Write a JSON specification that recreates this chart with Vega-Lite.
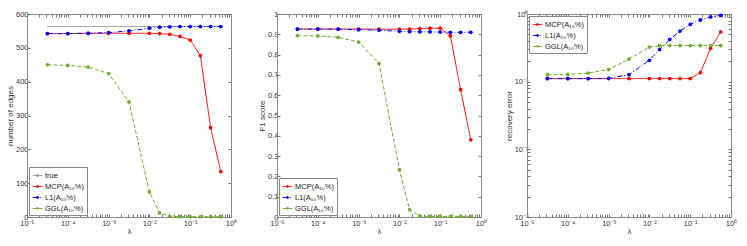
{
  "$schema": "https://vega.github.io/schema/vega-lite/v6.json",
  "padding": {"left": 6, "top": 10, "right": 2, "bottom": 1},
  "background": "white",
  "config": {
    "font": "Liberation Sans",
    "view": {"stroke": null},
    "axis": {
      "grid": false,
      "tickSize": -3,
      "tickColor": "#777",
      "domainColor": "#888",
      "labelColor": "#333",
      "labelFont": "Liberation Sans",
      "labelFontSize": 7.5,
      "labelPadding": 2,
      "labelFlush": false,
      "labelOverlap": false,
      "titleFont": "Liberation Sans",
      "titleFontSize": 8,
      "titleFontWeight": "normal",
      "titleColor": "#333",
      "titlePadding": 3
    },
    "axisY": {"titlePadding": 1},
    "axisX": {"labelPadding": 5, "titlePadding": 1},
    "legend": {
      "strokeColor": "#888",
      "fillColor": "white",
      "padding": 3,
      "offset": 2,
      "labelFont": "Liberation Sans",
      "labelFontSize": 7.5,
      "labelColor": "#222",
      "rowPadding": 2,
      "symbolSize": 90,
      "symbolStrokeWidth": 1,
      "labelOffset": 2,
      "symbolType": "M-1,0L1,0M-0.22,0A0.22,0.22,0,1,1,0.22,0A0.22,0.22,0,1,1,-0.22,0Z"
    }
  },
  "data": {"values": [
    {"panel":1,"method":"true","x":3.162e-5,"y":563},{"panel":1,"method":"true","x":1e-4,"y":563},{"panel":1,"method":"true","x":3.162e-4,"y":563},{"panel":1,"method":"true","x":1e-3,"y":563},{"panel":1,"method":"true","x":3.162e-3,"y":563},{"panel":1,"method":"true","x":1e-2,"y":563},{"panel":1,"method":"true","x":1.778e-2,"y":563},{"panel":1,"method":"true","x":3.162e-2,"y":563},{"panel":1,"method":"true","x":5.623e-2,"y":563},{"panel":1,"method":"true","x":0.1,"y":563},{"panel":1,"method":"true","x":0.1778,"y":563},{"panel":1,"method":"true","x":0.3162,"y":563},{"panel":1,"method":"true","x":0.5623,"y":563},

    {"panel":1,"method":"MCP(A₁₀%)","x":3.162e-5,"y":542},{"panel":1,"method":"MCP(A₁₀%)","x":1e-4,"y":542},{"panel":1,"method":"MCP(A₁₀%)","x":3.162e-4,"y":543},{"panel":1,"method":"MCP(A₁₀%)","x":1e-3,"y":543},{"panel":1,"method":"MCP(A₁₀%)","x":3.162e-3,"y":543},{"panel":1,"method":"MCP(A₁₀%)","x":1e-2,"y":543},{"panel":1,"method":"MCP(A₁₀%)","x":1.778e-2,"y":542},{"panel":1,"method":"MCP(A₁₀%)","x":3.162e-2,"y":540},{"panel":1,"method":"MCP(A₁₀%)","x":5.623e-2,"y":534},{"panel":1,"method":"MCP(A₁₀%)","x":0.1,"y":523},{"panel":1,"method":"MCP(A₁₀%)","x":0.1778,"y":477},{"panel":1,"method":"MCP(A₁₀%)","x":0.3162,"y":264},{"panel":1,"method":"MCP(A₁₀%)","x":0.5623,"y":134},

    {"panel":1,"method":"L1(A₁₀%)","x":3.162e-5,"y":542},{"panel":1,"method":"L1(A₁₀%)","x":1e-4,"y":542},{"panel":1,"method":"L1(A₁₀%)","x":3.162e-4,"y":543},{"panel":1,"method":"L1(A₁₀%)","x":1e-3,"y":545},{"panel":1,"method":"L1(A₁₀%)","x":3.162e-3,"y":550},{"panel":1,"method":"L1(A₁₀%)","x":1e-2,"y":558},{"panel":1,"method":"L1(A₁₀%)","x":1.778e-2,"y":561},{"panel":1,"method":"L1(A₁₀%)","x":3.162e-2,"y":562},{"panel":1,"method":"L1(A₁₀%)","x":5.623e-2,"y":563},{"panel":1,"method":"L1(A₁₀%)","x":0.1,"y":563},{"panel":1,"method":"L1(A₁₀%)","x":0.1778,"y":563},{"panel":1,"method":"L1(A₁₀%)","x":0.3162,"y":563},{"panel":1,"method":"L1(A₁₀%)","x":0.5623,"y":563},

    {"panel":1,"method":"GGL(A₁₀%)","x":3.162e-5,"y":450},{"panel":1,"method":"GGL(A₁₀%)","x":1e-4,"y":448},{"panel":1,"method":"GGL(A₁₀%)","x":3.162e-4,"y":443},{"panel":1,"method":"GGL(A₁₀%)","x":1e-3,"y":424},{"panel":1,"method":"GGL(A₁₀%)","x":3.162e-3,"y":340},{"panel":1,"method":"GGL(A₁₀%)","x":1e-2,"y":74},{"panel":1,"method":"GGL(A₁₀%)","x":1.778e-2,"y":12},{"panel":1,"method":"GGL(A₁₀%)","x":3.162e-2,"y":2},{"panel":1,"method":"GGL(A₁₀%)","x":5.623e-2,"y":1},{"panel":1,"method":"GGL(A₁₀%)","x":0.1,"y":1},{"panel":1,"method":"GGL(A₁₀%)","x":0.1778,"y":1},{"panel":1,"method":"GGL(A₁₀%)","x":0.3162,"y":1},{"panel":1,"method":"GGL(A₁₀%)","x":0.5623,"y":1},

    {"panel":2,"method":"MCP(A₁₀%)","x":3.162e-5,"y":0.926},{"panel":2,"method":"MCP(A₁₀%)","x":1e-4,"y":0.926},{"panel":2,"method":"MCP(A₁₀%)","x":3.162e-4,"y":0.926},{"panel":2,"method":"MCP(A₁₀%)","x":1e-3,"y":0.926},{"panel":2,"method":"MCP(A₁₀%)","x":3.162e-3,"y":0.925},{"panel":2,"method":"MCP(A₁₀%)","x":1e-2,"y":0.925},{"panel":2,"method":"MCP(A₁₀%)","x":1.778e-2,"y":0.926},{"panel":2,"method":"MCP(A₁₀%)","x":3.162e-2,"y":0.928},{"panel":2,"method":"MCP(A₁₀%)","x":5.623e-2,"y":0.93},{"panel":2,"method":"MCP(A₁₀%)","x":0.1,"y":0.93},{"panel":2,"method":"MCP(A₁₀%)","x":0.1778,"y":0.892},{"panel":2,"method":"MCP(A₁₀%)","x":0.3162,"y":0.628},{"panel":2,"method":"MCP(A₁₀%)","x":0.5623,"y":0.38},

    {"panel":2,"method":"L1(A₁₀%)","x":3.162e-5,"y":0.926},{"panel":2,"method":"L1(A₁₀%)","x":1e-4,"y":0.926},{"panel":2,"method":"L1(A₁₀%)","x":3.162e-4,"y":0.925},{"panel":2,"method":"L1(A₁₀%)","x":1e-3,"y":0.923},{"panel":2,"method":"L1(A₁₀%)","x":3.162e-3,"y":0.92},{"panel":2,"method":"L1(A₁₀%)","x":1e-2,"y":0.915},{"panel":2,"method":"L1(A₁₀%)","x":1.778e-2,"y":0.913},{"panel":2,"method":"L1(A₁₀%)","x":3.162e-2,"y":0.912},{"panel":2,"method":"L1(A₁₀%)","x":5.623e-2,"y":0.912},{"panel":2,"method":"L1(A₁₀%)","x":0.1,"y":0.911},{"panel":2,"method":"L1(A₁₀%)","x":0.1778,"y":0.91},{"panel":2,"method":"L1(A₁₀%)","x":0.3162,"y":0.91},{"panel":2,"method":"L1(A₁₀%)","x":0.5623,"y":0.91},

    {"panel":2,"method":"GGL(A₁₀%)","x":3.162e-5,"y":0.893},{"panel":2,"method":"GGL(A₁₀%)","x":1e-4,"y":0.892},{"panel":2,"method":"GGL(A₁₀%)","x":3.162e-4,"y":0.885},{"panel":2,"method":"GGL(A₁₀%)","x":1e-3,"y":0.862},{"panel":2,"method":"GGL(A₁₀%)","x":3.162e-3,"y":0.756},{"panel":2,"method":"GGL(A₁₀%)","x":1e-2,"y":0.233},{"panel":2,"method":"GGL(A₁₀%)","x":1.778e-2,"y":0.036},{"panel":2,"method":"GGL(A₁₀%)","x":3.162e-2,"y":0.005},{"panel":2,"method":"GGL(A₁₀%)","x":5.623e-2,"y":0.003},{"panel":2,"method":"GGL(A₁₀%)","x":0.1,"y":0.003},{"panel":2,"method":"GGL(A₁₀%)","x":0.1778,"y":0.003},{"panel":2,"method":"GGL(A₁₀%)","x":0.3162,"y":0.003},{"panel":2,"method":"GGL(A₁₀%)","x":0.5623,"y":0.003},

    {"panel":3,"method":"MCP(A₁₀%)","x":3.162e-5,"y":0.111},{"panel":3,"method":"MCP(A₁₀%)","x":1e-4,"y":0.111},{"panel":3,"method":"MCP(A₁₀%)","x":3.162e-4,"y":0.111},{"panel":3,"method":"MCP(A₁₀%)","x":1e-3,"y":0.111},{"panel":3,"method":"MCP(A₁₀%)","x":3.162e-3,"y":0.111},{"panel":3,"method":"MCP(A₁₀%)","x":1e-2,"y":0.111},{"panel":3,"method":"MCP(A₁₀%)","x":1.778e-2,"y":0.111},{"panel":3,"method":"MCP(A₁₀%)","x":3.162e-2,"y":0.111},{"panel":3,"method":"MCP(A₁₀%)","x":5.623e-2,"y":0.111},{"panel":3,"method":"MCP(A₁₀%)","x":0.1,"y":0.111},{"panel":3,"method":"MCP(A₁₀%)","x":0.1778,"y":0.136},{"panel":3,"method":"MCP(A₁₀%)","x":0.3162,"y":0.312},{"panel":3,"method":"MCP(A₁₀%)","x":0.5623,"y":0.543},

    {"panel":3,"method":"L1(A₁₀%)","x":3.162e-5,"y":0.111},{"panel":3,"method":"L1(A₁₀%)","x":1e-4,"y":0.111},{"panel":3,"method":"L1(A₁₀%)","x":3.162e-4,"y":0.111},{"panel":3,"method":"L1(A₁₀%)","x":1e-3,"y":0.112},{"panel":3,"method":"L1(A₁₀%)","x":3.162e-3,"y":0.127},{"panel":3,"method":"L1(A₁₀%)","x":1e-2,"y":0.207},{"panel":3,"method":"L1(A₁₀%)","x":1.778e-2,"y":0.298},{"panel":3,"method":"L1(A₁₀%)","x":3.162e-2,"y":0.42},{"panel":3,"method":"L1(A₁₀%)","x":5.623e-2,"y":0.56},{"panel":3,"method":"L1(A₁₀%)","x":0.1,"y":0.70},{"panel":3,"method":"L1(A₁₀%)","x":0.1778,"y":0.817},{"panel":3,"method":"L1(A₁₀%)","x":0.3162,"y":0.904},{"panel":3,"method":"L1(A₁₀%)","x":0.5623,"y":0.956},

    {"panel":3,"method":"GGL(A₁₀%)","x":3.162e-5,"y":0.127},{"panel":3,"method":"GGL(A₁₀%)","x":1e-4,"y":0.128},{"panel":3,"method":"GGL(A₁₀%)","x":3.162e-4,"y":0.134},{"panel":3,"method":"GGL(A₁₀%)","x":1e-3,"y":0.151},{"panel":3,"method":"GGL(A₁₀%)","x":3.162e-3,"y":0.215},{"panel":3,"method":"GGL(A₁₀%)","x":1e-2,"y":0.324},{"panel":3,"method":"GGL(A₁₀%)","x":1.778e-2,"y":0.34},{"panel":3,"method":"GGL(A₁₀%)","x":3.162e-2,"y":0.342},{"panel":3,"method":"GGL(A₁₀%)","x":5.623e-2,"y":0.342},{"panel":3,"method":"GGL(A₁₀%)","x":0.1,"y":0.342},{"panel":3,"method":"GGL(A₁₀%)","x":0.1778,"y":0.342},{"panel":3,"method":"GGL(A₁₀%)","x":0.3162,"y":0.342},{"panel":3,"method":"GGL(A₁₀%)","x":0.5623,"y":0.342}
  ]},
  "bounds": "flush",
  "spacing": 46,
  "resolve": {
    "scale": {"color": "independent", "strokeDash": "independent", "x": "independent", "y": "independent"},
    "legend": {"color": "independent", "strokeDash": "independent"}
  },
  "hconcat": [
    {
      "width": 204, "height": 203,
      "transform": [{"filter": "datum.panel == 1"}],
      "layer": [
        {
          "mark": {"type": "line", "strokeWidth": 1},
          "encoding": {
            "x": {"field": "x", "type": "quantitative", "scale": {"type": "log", "domain": [0.00001, 1]},
              "axis": {"orient": "bottom", "title": "λ", "values": [0.00001,0.00002,0.00003,0.00004,0.00005,0.00006,0.00007,0.00008,0.00009,0.0001,0.0002,0.0003,0.0004,0.0005,0.0006,0.0007,0.0008,0.0009,0.001,0.002,0.003,0.004,0.005,0.006,0.007,0.008,0.009,0.01,0.02,0.03,0.04,0.05,0.06,0.07,0.08,0.09,0.1,0.2,0.3,0.4,0.5,0.6,0.7,0.8,0.9,1],
                "labelExpr": "indexof([0.00001,0.0001,0.001,0.01,0.1,1], datum.value) >= 0 ? '10' + ['⁻⁵','⁻⁴','⁻³','⁻²','⁻¹','⁰'][indexof([0.00001,0.0001,0.001,0.01,0.1,1], datum.value)] : ''"}},
            "y": {"field": "y", "type": "quantitative", "scale": {"domain": [0, 600]},
              "axis": {"orient": "left", "title": "number of edges", "values": [0,100,200,300,400,500,600]}},
            "color": {"field": "method", "type": "nominal",
              "scale": {"domain": ["true","MCP(A₁₀%)","L1(A₁₀%)","GGL(A₁₀%)"], "range": ["#8c8c8c","#ff0000","#0000ff","#6fae2e"]},
              "legend": {"title": null, "orient": "bottom-left"}},
            "strokeDash": {"field": "method", "type": "nominal",
              "scale": {"domain": ["true","MCP(A₁₀%)","L1(A₁₀%)","GGL(A₁₀%)"], "range": [[1,0],[1,0],[5,2,1,2],[4,2]]},
              "legend": {"title": null, "orient": "bottom-left"}}
          }
        },
        {
          "transform": [{"filter": "datum.method != 'true'"}],
          "mark": {"type": "point", "filled": true, "size": 14, "opacity": 1},
          "encoding": {
            "x": {"field": "x", "type": "quantitative", "scale": {"type": "log", "domain": [0.00001, 1]},
              "axis": {"orient": "top", "title": null, "labels": false, "values": [0.00001,0.00002,0.00003,0.00004,0.00005,0.00006,0.00007,0.00008,0.00009,0.0001,0.0002,0.0003,0.0004,0.0005,0.0006,0.0007,0.0008,0.0009,0.001,0.002,0.003,0.004,0.005,0.006,0.007,0.008,0.009,0.01,0.02,0.03,0.04,0.05,0.06,0.07,0.08,0.09,0.1,0.2,0.3,0.4,0.5,0.6,0.7,0.8,0.9,1]}},
            "y": {"field": "y", "type": "quantitative", "scale": {"domain": [0, 600]},
              "axis": {"orient": "right", "title": null, "labels": false, "values": [0,100,200,300,400,500,600]}},
            "color": {"field": "method", "type": "nominal",
              "scale": {"domain": ["true","MCP(A₁₀%)","L1(A₁₀%)","GGL(A₁₀%)"], "range": ["#8c8c8c","#ff0000","#0000ff","#6fae2e"]},
              "legend": {"title": null, "orient": "bottom-left"}}
          }
        }
      ],
      "resolve": {"axis": {"x": "independent", "y": "independent"}}
    },
    {
      "width": 204, "height": 203,
      "transform": [{"filter": "datum.panel == 2"}],
      "layer": [
        {
          "mark": {"type": "line", "strokeWidth": 1},
          "encoding": {
            "x": {"field": "x", "type": "quantitative", "scale": {"type": "log", "domain": [0.00001, 1]},
              "axis": {"orient": "bottom", "title": "λ", "values": [0.00001,0.00002,0.00003,0.00004,0.00005,0.00006,0.00007,0.00008,0.00009,0.0001,0.0002,0.0003,0.0004,0.0005,0.0006,0.0007,0.0008,0.0009,0.001,0.002,0.003,0.004,0.005,0.006,0.007,0.008,0.009,0.01,0.02,0.03,0.04,0.05,0.06,0.07,0.08,0.09,0.1,0.2,0.3,0.4,0.5,0.6,0.7,0.8,0.9,1],
                "labelExpr": "indexof([0.00001,0.0001,0.001,0.01,0.1,1], datum.value) >= 0 ? '10' + ['⁻⁵','⁻⁴','⁻³','⁻²','⁻¹','⁰'][indexof([0.00001,0.0001,0.001,0.01,0.1,1], datum.value)] : ''"}},
            "y": {"field": "y", "type": "quantitative", "scale": {"domain": [0, 1]},
              "axis": {"orient": "left", "title": "F1 score", "format": "~g", "values": [0,0.1,0.2,0.3,0.4,0.5,0.6,0.7,0.8,0.9,1]}},
            "color": {"field": "method", "type": "nominal",
              "scale": {"domain": ["MCP(A₁₀%)","L1(A₁₀%)","GGL(A₁₀%)"], "range": ["#ff0000","#0000ff","#6fae2e"]},
              "legend": {"title": null, "orient": "bottom-left"}},
            "strokeDash": {"field": "method", "type": "nominal",
              "scale": {"domain": ["MCP(A₁₀%)","L1(A₁₀%)","GGL(A₁₀%)"], "range": [[1,0],[5,2,1,2],[4,2]]},
              "legend": {"title": null, "orient": "bottom-left"}}
          }
        },
        {
          "mark": {"type": "point", "filled": true, "size": 14, "opacity": 1},
          "encoding": {
            "x": {"field": "x", "type": "quantitative", "scale": {"type": "log", "domain": [0.00001, 1]},
              "axis": {"orient": "top", "title": null, "labels": false, "values": [0.00001,0.00002,0.00003,0.00004,0.00005,0.00006,0.00007,0.00008,0.00009,0.0001,0.0002,0.0003,0.0004,0.0005,0.0006,0.0007,0.0008,0.0009,0.001,0.002,0.003,0.004,0.005,0.006,0.007,0.008,0.009,0.01,0.02,0.03,0.04,0.05,0.06,0.07,0.08,0.09,0.1,0.2,0.3,0.4,0.5,0.6,0.7,0.8,0.9,1]}},
            "y": {"field": "y", "type": "quantitative", "scale": {"domain": [0, 1]},
              "axis": {"orient": "right", "title": null, "labels": false, "values": [0,0.1,0.2,0.3,0.4,0.5,0.6,0.7,0.8,0.9,1]}},
            "color": {"field": "method", "type": "nominal",
              "scale": {"domain": ["MCP(A₁₀%)","L1(A₁₀%)","GGL(A₁₀%)"], "range": ["#ff0000","#0000ff","#6fae2e"]},
              "legend": {"title": null, "orient": "bottom-left"}}
          }
        }
      ],
      "resolve": {"axis": {"x": "independent", "y": "independent"}}
    },
    {
      "width": 204, "height": 203,
      "transform": [{"filter": "datum.panel == 3"}],
      "layer": [
        {
          "mark": {"type": "line", "strokeWidth": 1},
          "encoding": {
            "x": {"field": "x", "type": "quantitative", "scale": {"type": "log", "domain": [0.00001, 1]},
              "axis": {"orient": "bottom", "title": "λ", "values": [0.00001,0.00002,0.00003,0.00004,0.00005,0.00006,0.00007,0.00008,0.00009,0.0001,0.0002,0.0003,0.0004,0.0005,0.0006,0.0007,0.0008,0.0009,0.001,0.002,0.003,0.004,0.005,0.006,0.007,0.008,0.009,0.01,0.02,0.03,0.04,0.05,0.06,0.07,0.08,0.09,0.1,0.2,0.3,0.4,0.5,0.6,0.7,0.8,0.9,1],
                "labelExpr": "indexof([0.00001,0.0001,0.001,0.01,0.1,1], datum.value) >= 0 ? '10' + ['⁻⁵','⁻⁴','⁻³','⁻²','⁻¹','⁰'][indexof([0.00001,0.0001,0.001,0.01,0.1,1], datum.value)] : ''"}},
            "y": {"field": "y", "type": "quantitative", "scale": {"type": "log", "domain": [0.001, 1]},
              "axis": {"orient": "left", "title": "recovery error", "values": [0.001,0.002,0.003,0.004,0.005,0.006,0.007,0.008,0.009,0.01,0.02,0.03,0.04,0.05,0.06,0.07,0.08,0.09,0.1,0.2,0.3,0.4,0.5,0.6,0.7,0.8,0.9,1],
                "labelExpr": "indexof([0.001,0.01,0.1,1], datum.value) >= 0 ? '10' + ['⁻³','⁻²','⁻¹','⁰'][indexof([0.001,0.01,0.1,1], datum.value)] : ''"}},
            "color": {"field": "method", "type": "nominal",
              "scale": {"domain": ["MCP(A₁₀%)","L1(A₁₀%)","GGL(A₁₀%)"], "range": ["#ff0000","#0000ff","#6fae2e"]},
              "legend": {"title": null, "orient": "top-left"}},
            "strokeDash": {"field": "method", "type": "nominal",
              "scale": {"domain": ["MCP(A₁₀%)","L1(A₁₀%)","GGL(A₁₀%)"], "range": [[1,0],[5,2,1,2],[4,2]]},
              "legend": {"title": null, "orient": "top-left"}}
          }
        },
        {
          "mark": {"type": "point", "filled": true, "size": 14, "opacity": 1},
          "encoding": {
            "x": {"field": "x", "type": "quantitative", "scale": {"type": "log", "domain": [0.00001, 1]},
              "axis": {"orient": "top", "title": null, "labels": false, "values": [0.00001,0.00002,0.00003,0.00004,0.00005,0.00006,0.00007,0.00008,0.00009,0.0001,0.0002,0.0003,0.0004,0.0005,0.0006,0.0007,0.0008,0.0009,0.001,0.002,0.003,0.004,0.005,0.006,0.007,0.008,0.009,0.01,0.02,0.03,0.04,0.05,0.06,0.07,0.08,0.09,0.1,0.2,0.3,0.4,0.5,0.6,0.7,0.8,0.9,1]}},
            "y": {"field": "y", "type": "quantitative", "scale": {"type": "log", "domain": [0.001, 1]},
              "axis": {"orient": "right", "title": null, "labels": false, "values": [0.001,0.002,0.003,0.004,0.005,0.006,0.007,0.008,0.009,0.01,0.02,0.03,0.04,0.05,0.06,0.07,0.08,0.09,0.1,0.2,0.3,0.4,0.5,0.6,0.7,0.8,0.9,1]}},
            "color": {"field": "method", "type": "nominal",
              "scale": {"domain": ["MCP(A₁₀%)","L1(A₁₀%)","GGL(A₁₀%)"], "range": ["#ff0000","#0000ff","#6fae2e"]},
              "legend": {"title": null, "orient": "top-left"}}
          }
        }
      ],
      "resolve": {"axis": {"x": "independent", "y": "independent"}}
    }
  ]
}
